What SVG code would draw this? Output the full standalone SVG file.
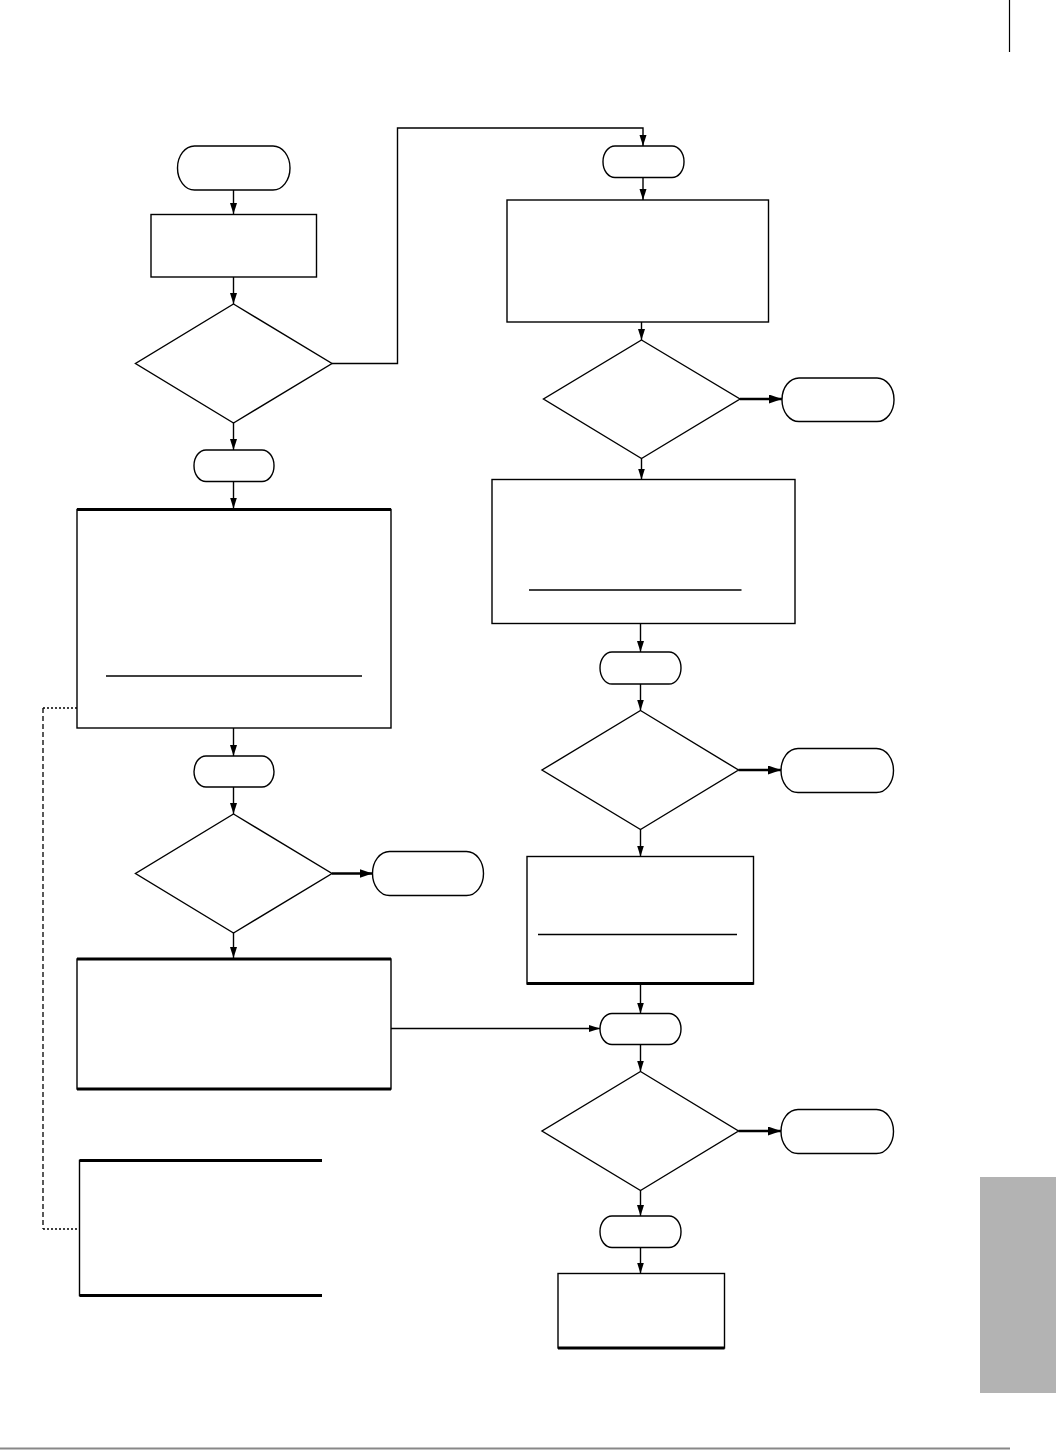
<svg xmlns="http://www.w3.org/2000/svg" width="1056" height="1450" viewBox="0 0 1056 1450">
<style>
.n{fill:#fff;stroke:#000;stroke-width:1.4}
.tk{stroke:#000;stroke-width:3;fill:none}
.c{stroke:#000;stroke-width:1.4;fill:none}
.cb{stroke:#000;stroke-width:2.6;fill:none}
.ul{stroke:#000;stroke-width:1.3}
</style>
<defs>
<marker id="a" markerUnits="userSpaceOnUse" markerWidth="12" markerHeight="8" refX="11" refY="3.5" orient="auto"><path d="M0,0 L11,3.5 L0,7 z" fill="#000"/></marker>
<marker id="ab" markerUnits="userSpaceOnUse" markerWidth="14" markerHeight="10" refX="13" refY="4.5" orient="auto"><path d="M0,0 L13,4.5 L0,9 z" fill="#000"/></marker>
</defs>
<rect width="1056" height="1450" fill="#fff"/>
<line x1="1009.5" y1="0" x2="1009.5" y2="52" stroke="#000" stroke-width="1.2"/>
<rect x="980" y="1177" width="76" height="216" fill="#b3b3b3"/>
<line x1="0" y1="1448.5" x2="1010" y2="1448.5" stroke="#888" stroke-width="2"/>

<g id="start"><rect class="n" x="177.5" y="146" width="112.5" height="44" rx="17" ry="22"/></g>
<g id="box1"><rect class="n" x="151" y="214.5" width="165.5" height="62.5" stroke-width="2"/></g>
<g id="dec1"><polygon class="n" points="233.5,304 332,363.5 233.5,423 135.5,363.5"/></g>
<g id="t1"><rect class="n" x="194" y="450" width="80" height="31.5" rx="12" ry="15.5"/></g>
<g id="box4"><rect class="n" x="77" y="509.5" width="314" height="218.5"/><line x1="77" y1="509.5" x2="391" y2="509.5" class="tk"/><line class="ul" x1="106" y1="676" x2="362" y2="676"/></g>
<g id="t2"><rect class="n" x="194" y="756" width="80" height="31" rx="12" ry="15.5"/></g>
<g id="dec3"><polygon class="n" points="233.5,814 332,873.5 233.5,933 135.5,873.5"/></g>
<g id="end3"><rect class="n" x="372.5" y="851.5" width="111" height="44" rx="17" ry="22"/></g>
<g id="box5"><rect class="n" x="77" y="959" width="314" height="130"/><line x1="77" y1="959" x2="391" y2="959" class="tk"/><line x1="77" y1="1089" x2="391" y2="1089" class="tk"/></g>
<g id="box8"><path d="M322,1160.5 H79.5 V1295.5 H322" fill="none" stroke="#000" stroke-width="1.4"/><line x1="79.5" y1="1160.5" x2="322" y2="1160.5" class="tk" stroke-width="2.6"/><line x1="79.5" y1="1295.5" x2="322" y2="1295.5" class="tk" stroke-width="2.6"/></g>

<g id="tA"><rect class="n" x="603" y="146" width="81" height="31.5" rx="12" ry="15.5"/></g>
<g id="box2"><rect class="n" x="507" y="200" width="261.5" height="122" stroke-width="2.4"/></g>
<g id="dec2"><polygon class="n" points="641.5,340 740,399 641.5,458.5 543.5,399"/></g>
<g id="end2"><rect class="n" x="782" y="378" width="112" height="43.5" rx="17" ry="21.5"/></g>
<g id="box3"><rect class="n" x="492" y="479.5" width="303" height="144"/><line class="ul" x1="529" y1="590" x2="741.5" y2="590"/></g>
<g id="t3"><rect class="n" x="600" y="652" width="81" height="32" rx="12" ry="16"/></g>
<g id="dec4"><polygon class="n" points="640.5,710.5 738.5,770 640.5,829.5 542,770"/></g>
<g id="end4"><rect class="n" x="781" y="748.5" width="112.5" height="44" rx="17" ry="22"/></g>
<g id="box6"><rect class="n" x="527" y="856.5" width="226.5" height="127.5"/><line x1="527" y1="983.5" x2="753.5" y2="983.5" class="tk" stroke-width="2.6"/><line class="ul" x1="538" y1="934.5" x2="737" y2="934.5"/></g>
<g id="t4"><rect class="n" x="600" y="1013.5" width="81" height="31" rx="12" ry="15.5"/></g>
<g id="dec5"><polygon class="n" points="640.5,1071.5 738.5,1131 640.5,1190.5 542,1131"/></g>
<g id="end5"><rect class="n" x="781" y="1109.5" width="112.5" height="44" rx="17" ry="22"/></g>
<g id="t5"><rect class="n" x="600" y="1216" width="81" height="31.5" rx="12" ry="15.5"/></g>
<g id="box7"><rect class="n" x="558" y="1273.5" width="166.5" height="74.5"/><line x1="558" y1="1348" x2="724.5" y2="1348" class="tk" stroke-width="2.6"/></g>

<g id="connectors">
<line class="c" x1="233.5" y1="190" x2="233.5" y2="214" marker-end="url(#a)"/>
<line class="c" x1="233.5" y1="277" x2="233.5" y2="304" marker-end="url(#a)"/>
<path class="c" d="M332,363.5 H397.5 V128 H643 V146" stroke-width="2" marker-end="url(#a)"/>
<line class="c" x1="233.5" y1="423" x2="233.5" y2="450" marker-end="url(#a)"/>
<line class="c" x1="233.5" y1="481.5" x2="233.5" y2="508.5" marker-end="url(#a)"/>
<line class="c" x1="233.5" y1="728" x2="233.5" y2="756" marker-end="url(#a)"/>
<line class="c" x1="233.5" y1="787" x2="233.5" y2="814" marker-end="url(#a)"/>
<line class="cb" x1="332" y1="873.5" x2="372.5" y2="873.5" marker-end="url(#ab)"/>
<line class="c" x1="233.5" y1="933" x2="233.5" y2="958" marker-end="url(#a)"/>
<line class="c" x1="391" y1="1028.5" x2="600" y2="1028.5" marker-end="url(#a)"/>
<path d="M77,708 H43" fill="none" stroke="#000" stroke-width="1.6" stroke-dasharray="2,2"/>
<path d="M43,708 V1229" fill="none" stroke="#000" stroke-width="1.3" stroke-dasharray="5,3"/>
<path d="M43,1229 H79" fill="none" stroke="#000" stroke-width="1.3" stroke-dasharray="2,2"/>
<line class="c" x1="643" y1="177.5" x2="643" y2="200" marker-end="url(#a)"/>
<line class="c" x1="641.5" y1="322" x2="641.5" y2="340" marker-end="url(#a)"/>
<line class="cb" x1="740" y1="399" x2="782" y2="399" marker-end="url(#ab)"/>
<line class="c" x1="641.5" y1="458.5" x2="641.5" y2="479.5" marker-end="url(#a)"/>
<line class="c" x1="640.5" y1="623.5" x2="640.5" y2="652" marker-end="url(#a)"/>
<line class="c" x1="640.5" y1="684" x2="640.5" y2="710.5" marker-end="url(#a)"/>
<line class="cb" x1="738.5" y1="770" x2="781" y2="770" marker-end="url(#ab)"/>
<line class="c" x1="640.5" y1="829.5" x2="640.5" y2="856.5" marker-end="url(#a)"/>
<line class="c" x1="640.5" y1="984" x2="640.5" y2="1013.5" marker-end="url(#a)"/>
<line class="c" x1="640.5" y1="1044.5" x2="640.5" y2="1071.5" marker-end="url(#a)"/>
<line class="cb" x1="738.5" y1="1131" x2="781" y2="1131" marker-end="url(#ab)"/>
<line class="c" x1="640.5" y1="1190.5" x2="640.5" y2="1216" marker-end="url(#a)"/>
<line class="c" x1="640.5" y1="1247.5" x2="640.5" y2="1273.5" marker-end="url(#a)"/>
</g>
</svg>
